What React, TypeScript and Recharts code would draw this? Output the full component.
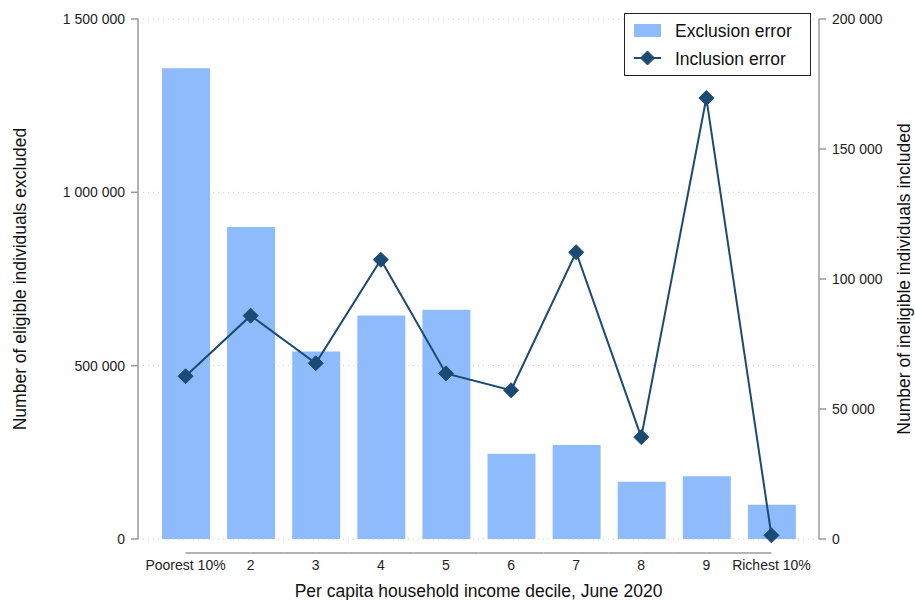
import { ComposedChart, Bar, Line, XAxis, YAxis, CartesianGrid, Legend } from "recharts"

const categories = ["Poorest 10%", "2", "3", "4", "5", "6", "7", "8", "9", "Richest 10%"]
const exclusionError = [1358000, 900000, 541000, 645000, 661000, 246000, 271000, 165000, 181000, 99000]
const inclusionError = [62600, 85900, 67600, 107400, 63700, 57200, 110300, 39200, 169600, 1400]
const leftTicks = [0, 500000, 1000000, 1500000]
const rightTicks = [0, 50000, 100000, 150000, 200000]

const FONT = "'Liberation Sans', Arial, Helvetica, sans-serif"
const BAR = "#8dbbfb"
const NAVY = "#1b4a72"
const AXIS = "#9a9a9a"
const PAD = 15
const TICK_FS = 14

const data = categories.map((c, i) => ({
  decile: c,
  exclusion: exclusionError[i],
  inclusion: inclusionError[i],
}))

function fmt(v: number) {
  return String(v).replace(/\B(?=(\d{3})+(?!\d))/g, " ")
}

function diamondPoints(cx: number, cy: number, r: number) {
  return `${cx},${cy - r} ${cx + r},${cy} ${cx},${cy + r} ${cx - r},${cy}`
}

function DiamondDot(props: any) {
  const { cx, cy } = props
  if (cx == null || cy == null) return null
  return <polygon points={diamondPoints(cx, cy, 7.5)} fill={NAVY} stroke={NAVY} />
}

function DecileTick(props: any) {
  const { x, y, payload, index, width } = props
  const n = categories.length
  const half = ((typeof width === "number" ? width : 681) - 2 * PAD) / n / 2
  const ly = y + 14
  return (
    <g>
      {index > 0 && <line x1={x - half} x2={x} y1={ly} y2={ly} stroke={AXIS} strokeWidth={1.5} />}
      {index < n - 1 && <line x1={x} x2={x + half} y1={ly} y2={ly} stroke={AXIS} strokeWidth={1.5} />}
      <text x={x} y={y + 31} textAnchor="middle" fill="#222" fontSize={TICK_FS} fontFamily={FONT}>
        {payload.value}
      </text>
    </g>
  )
}

function LegendBox() {
  return (
    <div
      style={{
        border: "1.5px solid #222",
        width: 187,
        height: 63,
        boxSizing: "border-box",
        background: "#fff",
        position: "relative",
      }}
    >
      <svg width={184} height={60} style={{ position: "absolute", left: 0, top: 0 }}>
        <rect x={9} y={10} width={27} height={13} fill={BAR} />
        <line x1={9} x2={36} y1={44} y2={44} stroke={NAVY} strokeWidth={2} />
        <polygon points={diamondPoints(22.5, 44, 7)} fill={NAVY} stroke={NAVY} />
        <text x={50} y={23} fontSize={17.5} fontFamily={FONT} fill="#111">Exclusion error</text>
        <text x={50} y={51} fontSize={17.5} fontFamily={FONT} fill="#111">Inclusion error</text>
      </svg>
    </div>
  )
}

function YTitle({ text, side }: any) {
  const cy = 279
  const cx = side === "left" ? 20 : 904
  return (
    <text
      x={cx}
      y={cy}
      transform={`rotate(-90 ${cx} ${cy})`}
      textAnchor="middle"
      dominantBaseline="central"
      fontSize={17.5}
      fontFamily={FONT}
      fill="#111"
    >
      {text}
    </text>
  )
}

export default function App() {
  return (
    <div style={{ position: "absolute", left: 0, top: 0, width: 915, height: 600, background: "#fff" }}>
      <ComposedChart
        width={915}
        height={600}
        data={data}
        margin={{ top: 19, right: 0, bottom: 0, left: 0 }}
      >
        <CartesianGrid
          yAxisId="left"
          vertical={false}
          stroke="#c8c8c8"
          strokeDasharray="1 4"
        />
        <XAxis
          dataKey="decile"
          height={61}
          padding={{ left: PAD, right: PAD }}
          axisLine={false}
          tickLine={false}
          tickSize={0}
          tickMargin={0}
          interval={0}
          tick={<DecileTick />}
          label={() => (
            <text
              x={478.5}
              y={597}
              textAnchor="middle"
              fontSize={17.5}
              fontFamily={FONT}
              fill="#111"
            >
              Per capita household income decile, June 2020
            </text>
          )}
        />
        <YAxis
          yAxisId="left"
          width={138}
          domain={[0, 1500000]}
          ticks={leftTicks}
          tickFormatter={fmt}
          stroke={AXIS}
          strokeWidth={1.5}
          tickSize={7}
          tickMargin={6}
          tick={{ fill: "#222", fontSize: TICK_FS, fontFamily: FONT }}
          label={() => <YTitle side="left" text="Number of eligible individuals excluded" />}
        />
        <YAxis
          yAxisId="right"
          orientation="right"
          width={96}
          domain={[0, 200000]}
          ticks={rightTicks}
          tickFormatter={fmt}
          stroke={AXIS}
          strokeWidth={1.5}
          tickSize={7}
          tickMargin={6}
          tick={{ fill: "#222", fontSize: TICK_FS, fontFamily: FONT }}
          label={() => <YTitle side="right" text="Number of ineligible individuals included" />}
        />
        <Legend
          layout="vertical"
          align="center"
          verticalAlign="middle"
          wrapperStyle={{ top: 13, left: 624, width: 187 }}
          content={() => <LegendBox />}
        />
        <Bar
          yAxisId="left"
          dataKey="exclusion"
          name="Exclusion error"
          fill={BAR}
          barSize={48}
          isAnimationActive={false}
        />
        <Line
          yAxisId="right"
          dataKey="inclusion"
          name="Inclusion error"
          stroke={NAVY}
          strokeWidth={2}
          dot={(p: any) => <DiamondDot key={`d-${p.index}`} {...p} />}
          activeDot={false}
          isAnimationActive={false}
        />
      </ComposedChart>
    </div>
  )
}
